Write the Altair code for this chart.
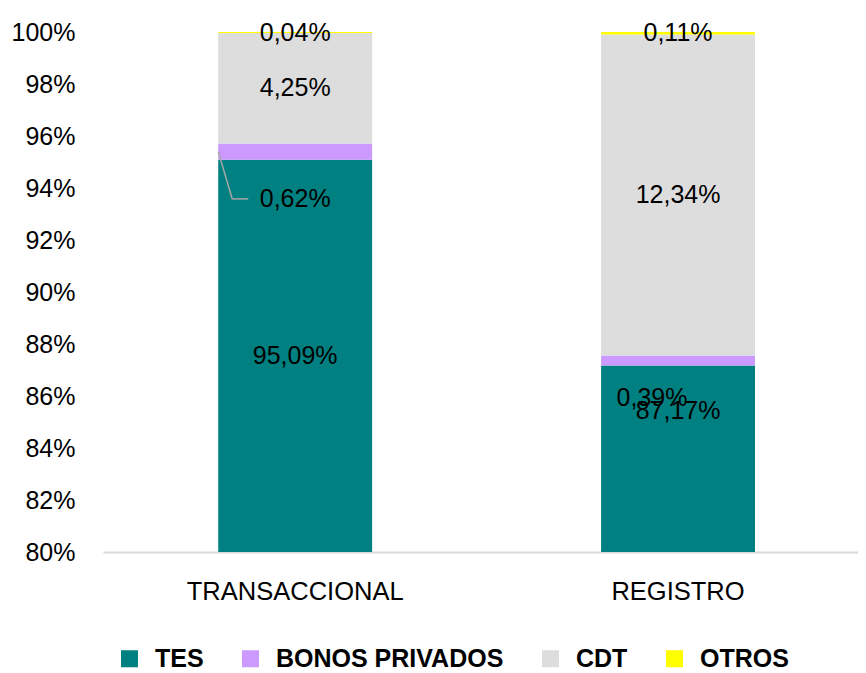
import altair as alt
import pandas as pd

categories = ["TRANSACCIONAL", "REGISTRO"]
series = ["TES", "BONOS PRIVADOS", "CDT", "OTROS"]
colors = ["#008080", "#CC99FF", "#DDDDDD", "#FFFF00"]
tes = [95.09, 87.17]
bonos = [0.62, 0.39]
cdt = [4.25, 12.34]
otros = [0.04, 0.11]
# label anchor heights (in % units), per category, per series
label_y_trans = [87.55, 93.58, 97.83, 99.98]
label_y_reg = [85.43, 85.94, 93.73, 99.945]
y_ticks = [80, 82, 84, 86, 88, 90, 92, 94, 96, 98, 100]

FONT = "Liberation Sans Narrow, Arial Narrow, Liberation Sans, Arial, sans-serif"
FS = 25

values = {"TES": tes, "BONOS PRIVADOS": bonos, "CDT": cdt, "OTROS": otros}
label_y = {"TRANSACCIONAL": label_y_trans, "REGISTRO": label_y_reg}

rows = []
for ci, cat in enumerate(categories):
    for si, s in enumerate(series):
        v = values[s][ci]
        rows.append({
            "cat": cat, "serie": s, "order": si, "value": v,
            "label": f"{v:.2f}".replace(".", ",") + "%",
            "ly": label_y[cat][si],
            "shift": (cat == "REGISTRO" and s == "BONOS PRIVADOS"),
        })
df = pd.DataFrame(rows)

xscale = alt.Scale(domain=categories, paddingInner=0.598, paddingOuter=0.285, align=0.528)
yscale = alt.Scale(domain=[80, 100], nice=False, zero=False)

bars = alt.Chart(df).mark_bar(clip=True).encode(
    x=alt.X("cat:N", scale=xscale, sort=categories, title=None,
            axis=alt.Axis(labelAngle=0, labelFontSize=FS + 0.5, labelFont=FONT, labelColor="#000000",
                          labelPadding=27, labelLimit=0, ticks=False,
                          domainColor="#D9D9D9", domainWidth=2)),
    y=alt.Y("value:Q", stack="zero", scale=yscale, title=None,
            axis=alt.Axis(values=y_ticks, labelExpr="datum.value + '%'", labelFontSize=FS,
                          labelFont=FONT, labelColor="#000000", labelPadding=28,
                          domain=False, ticks=False, grid=False)),
    color=alt.Color("serie:N", scale=alt.Scale(domain=series, range=colors),
                    legend=alt.Legend(title=None, orient="none", direction="horizontal",
                                      legendX=14, legendY=614, symbolType="square",
                                      symbolSize=289, symbolStrokeWidth=0, labelFontSize=FS,
                                      labelFont=FONT, labelFontWeight="bold", labelLimit=0,
                                      labelColor="#000000", labelOffset=13, columnPadding=34,
                                      padding=0)),
    order=alt.Order("order:Q"),
)

text_main = alt.Chart(df).transform_filter("!datum.shift").mark_text(
    fontSize=FS, font=FONT, color="#000000", baseline="middle"
).encode(
    x=alt.X("cat:N", scale=xscale, sort=categories),
    y=alt.Y("ly:Q", scale=yscale),
    text="label:N",
)

text_shift = alt.Chart(df).transform_filter("datum.shift").mark_text(
    fontSize=FS, font=FONT, color="#000000", baseline="middle", dx=-26
).encode(
    x=alt.X("cat:N", scale=xscale, sort=categories),
    y=alt.Y("ly:Q", scale=yscale),
    text="label:N",
)

# leader line for the 0,62% label
lead_df = pd.DataFrame({"cat": ["TRANSACCIONAL"], "y0": [tes[0] + bonos[0] / 2], "y1": [label_y_trans[1]]})
lead1 = alt.Chart(lead_df).mark_rule(color="#A6A6A6", strokeWidth=1.5, x2Offset=14).encode(
    x=alt.X("cat:N", scale=xscale, sort=categories, bandPosition=0),
    x2=alt.X2Datum("TRANSACCIONAL", bandPosition=0),
    y=alt.Y("y0:Q", scale=yscale),
    y2="y1:Q",
)
lead2 = alt.Chart(lead_df).mark_rule(color="#A6A6A6", strokeWidth=1.5, xOffset=14, x2Offset=30).encode(
    x=alt.X("cat:N", scale=xscale, sort=categories, bandPosition=0),
    x2=alt.X2Datum("TRANSACCIONAL", bandPosition=0),
    y=alt.Y("y1:Q", scale=yscale),
    y2="y1:Q",
)

chart = alt.layer(bars, lead1, lead2, text_main, text_shift).properties(
    width=755, height=520,
    autosize=alt.AutoSizeParams(type="none"),
    padding={"left": 95, "top": 24, "right": 0, "bottom": 125},
    background="#FFFFFF",
).configure_view(stroke=None)

chart.save("out.html", embed_options={"renderer": "svg", "actions": False})
